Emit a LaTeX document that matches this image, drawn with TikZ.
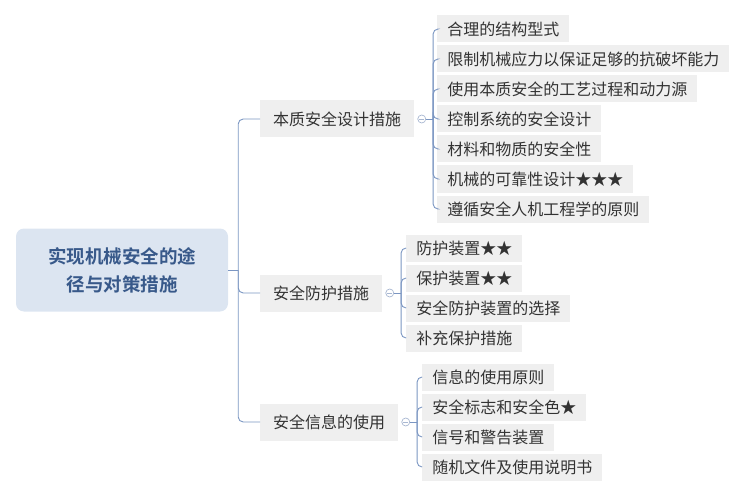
\documentclass[tikz,border=0pt]{standalone}
\usepackage{fontspec}
\setmainfont{Noto Sans CJK SC}[BoldFont={Noto Sans CJK SC Bold}]
\usetikzlibrary{positioning}
\definecolor{clink}{HTML}{7B96C2}
\definecolor{cfold}{HTML}{A9B8D2}
\definecolor{cleaf}{HTML}{EFEFEF}
\definecolor{croot}{HTML}{DCE5F1}
\definecolor{croottext}{HTML}{38598A}
\definecolor{ctext}{HTML}{333333}
\tikzset{
  every picture/.style={x=1pt, y=-1pt},
  root/.style={fill=croot, rounded corners=8pt, minimum width=212pt, minimum height=83pt,
    align=center, text=croottext, font=\bfseries\fontsize{18.5}{28}\selectfont},
  branch/.style={fill=cleaf, anchor=west, minimum height=37pt, inner xsep=13pt,
    text=ctext, font=\fontsize{16}{19}\selectfont},
  leaf/.style={fill=cleaf, anchor=west, minimum height=27pt, inner xsep=10pt,
    text=ctext, font=\fontsize{16}{19}\selectfont},
  link/.style={draw=clink, line width=0.9pt, rounded corners=5pt},
  fold/.style={circle, draw=cfold, fill=white, minimum size=8pt, inner sep=0pt, line width=0.7pt,
    path picture={\draw[cfold, line width=0.7pt] ([xshift=-2.5pt]path picture bounding box.center)
      -- ([xshift=2.5pt]path picture bounding box.center);}},
}
\begin{document}
\begin{tikzpicture}
  \useasboundingbox (0,0) rectangle (746,497);
  % root and main branches
  \node[root] (root) at (122,270) {实现机械安全的途\\径与对策措施};
  \node[branch] (b1) at (260,119) {本质安全设计措施};
  \node[branch] (b2) at (260,293) {安全防护措施};
  \node[branch] (b3) at (260,422) {安全信息的使用};
  \draw[link] (root.east) -- ++(10,0) coordinate (hub);
  \foreach \b in {b1,b2,b3} \draw[link] (hub) |- (\b.west);
  % fold markers and junctions
  \foreach \b in {1,2,3} {
    \node[fold, right=3pt of b\b] (m\b) {};
    \coordinate[right=7pt of m\b] (j\b);
    \draw[link] (m\b.east) -- (j\b);
  }
  % leaves
  \foreach \t [count=\i] in {合理的结构型式, 限制机械应力以保证足够的抗破坏能力,
      使用本质安全的工艺过程和动力源, 控制系统的安全设计, 材料和物质的安全性,
      机械的可靠性设计★★★, 遵循安全人机工程学的原则} {
    \node[leaf] (a\i) at ([shift={(4,30*(\i-4))}]j1) {\t};
    \draw[link] (j1) |- (a\i.west);
  }
  \foreach \t [count=\i] in {防护装置★★, 保护装置★★, 安全防护装置的选择, 补充保护措施} {
    \node[leaf] (c\i) at ([shift={(5,30*(\i-2.5))}]j2) {\t};
    \draw[link] (j2) |- (c\i.west);
  }
  \foreach \t [count=\i] in {信息的使用原则, 安全标志和安全色★, 信号和警告装置, 随机文件及使用说明书} {
    \node[leaf] (d\i) at ([shift={(5,30*(\i-2.5))}]j3) {\t};
    \draw[link] (j3) |- (d\i.west);
  }
\end{tikzpicture}
\end{document}
